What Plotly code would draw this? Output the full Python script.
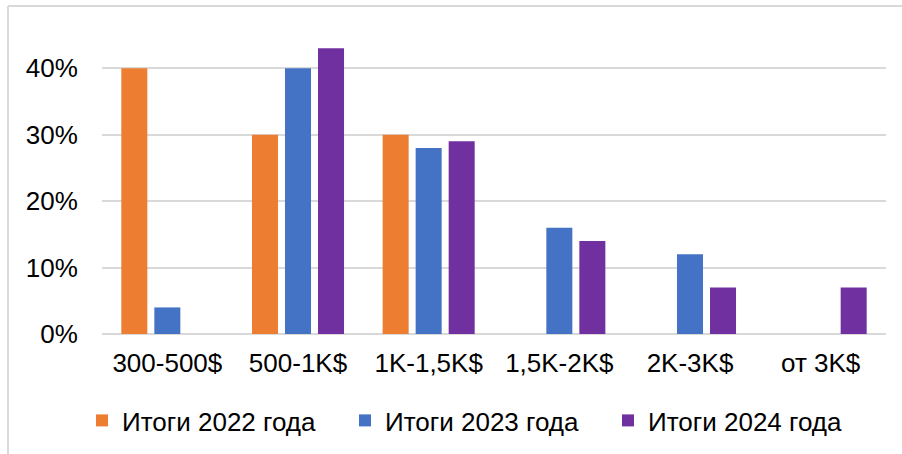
import plotly.graph_objects as go

categories = ["300-500$", "500-1K$", "1K-1,5K$", "1,5K-2K$", "2K-3K$", "от 3K$"]
y2022 = [0.40, 0.30, 0.30, None, None, None]
y2023 = [0.04, 0.40, 0.28, 0.16, 0.12, None]
y2024 = [None, 0.43, 0.29, 0.14, 0.07, 0.07]
series_names = ["Итоги 2022 года", "Итоги 2023 года", "Итоги 2024 года"]
colors = ["#ED7D31", "#4472C4", "#7030A0"]

W, H = 902, 454
L, R, T, B = 102, 16, 35, 120
pw, ph = W - L - R, H - T - B

def px_x(p):
    return (p - L) / pw

def px_y(p):
    return (H - B - p) / ph

font_family = "Arial, Liberation Sans, sans-serif"

fig = go.Figure()
for name, vals, col in zip(series_names, [y2022, y2023, y2024], colors):
    fig.add_trace(go.Bar(x=categories, y=vals, name=name, marker=dict(color=col, line=dict(width=0))))

fig.update_layout(
    width=W, height=H,
    margin=dict(l=L, r=R, t=T, b=B, pad=0, autoexpand=False),
    paper_bgcolor="white", plot_bgcolor="white",
    barmode="group", bargap=0.242, bargroupgap=0.212,
    font=dict(family=font_family, size=26, color="#000000"),
    showlegend=True,
    legend=dict(
        orientation="h", x=px_x(82), xanchor="left", y=px_y(397), yanchor="top",
        font=dict(size=26, color="#000000"),
        entrywidth=218, entrywidthmode="pixels",
        itemclick=False, traceorder="normal",
    ),
    xaxis=dict(showgrid=False, showline=False, ticks="outside", ticklen=6,
               tickcolor="rgba(0,0,0,0)", tickfont=dict(size=26), automargin=False),
    yaxis=dict(range=[0, 0.45], tickvals=[0, 0.1, 0.2, 0.3, 0.4], tickformat=".0%",
               showgrid=True, gridcolor="#D9D9D9", gridwidth=1.5,
               zeroline=True, zerolinecolor="#D9D9D9", zerolinewidth=1.5,
               showline=False, ticks="outside", ticklen=18, tickcolor="rgba(0,0,0,0)",
               tickfont=dict(size=26), automargin=False),
    shapes=[
        dict(type="line", xref="paper", yref="paper", x0=px_x(8), x1=px_x(8), y0=px_y(6), y1=px_y(460),
             line=dict(color="#D9D9D9", width=2)),
        dict(type="line", xref="paper", yref="paper", x0=px_x(8), x1=px_x(905), y0=px_y(6), y1=px_y(6),
             line=dict(color="#D9D9D9", width=2)),
    ],
)

fig.write_html(
    "out.html",
    config={"displayModeBar": False},
    post_script="document.body.style.margin='0';document.body.style.overflow='hidden';",
)
